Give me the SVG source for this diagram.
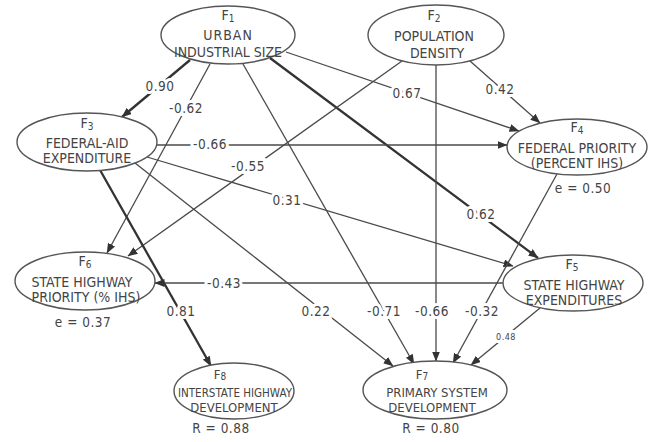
<svg xmlns="http://www.w3.org/2000/svg" width="652" height="442" viewBox="0 0 652 442">
<style>
  .node ellipse { fill: #fff; stroke: #555; stroke-width: 1.4; }
  .t { font-family: "Liberation Sans Narrow", "DejaVu Sans Condensed", "Liberation Sans", sans-serif; font-size: 14px; fill: #444; text-anchor: middle; }
  .f { font-family: "Liberation Sans Narrow", "DejaVu Sans Condensed", "Liberation Sans", sans-serif; font-size: 14px; fill: #444; text-anchor: middle; }
  .s13 { font-size: 13px; }
  .sub { font-size: 10px; }
  .edge { stroke: #4a4a4a; stroke-width: 1.3; fill: none; marker-end: url(#arr); }
  .bold { stroke-width: 2.3; stroke: #333; }
  .lbl { font-family: "Liberation Sans Narrow", "DejaVu Sans Condensed", "Liberation Sans", sans-serif; font-size: 13.5px; fill: #444; text-anchor: middle; stroke: #fff; stroke-width: 6; paint-order: stroke; letter-spacing: 0.5px; }
  .small { font-size: 9px; }
  .note { font-family: "Liberation Sans Narrow", "DejaVu Sans Condensed", "Liberation Sans", sans-serif; font-size: 13.5px; fill: #444; text-anchor: middle; letter-spacing: 0.5px; }
</style>
<defs>
  <marker id="arr" markerUnits="userSpaceOnUse" markerWidth="10" markerHeight="8" refX="9.5" refY="4" orient="auto">
    <path d="M0,0 L10,4 L0,8 Z" fill="#333"/>
  </marker>
</defs>
<rect width="652" height="442" fill="#fff"/>

<g id="connectors">
  <line class="edge bold" x1="190" y1="60" x2="122" y2="117"/>
  <line class="edge" x1="210" y1="64" x2="107" y2="253"/>
  <line class="edge" x1="243" y1="64" x2="414" y2="364"/>
  <line class="edge bold" x1="270" y1="58" x2="538" y2="258"/>
  <line class="edge" x1="286" y1="52" x2="519" y2="131"/>
  <line class="edge" x1="470" y1="61" x2="540" y2="123"/>
  <line class="edge" x1="402" y1="61" x2="128" y2="256"/>
  <line class="edge" x1="436" y1="65" x2="436" y2="361"/>
  <line class="edge" x1="157" y1="145" x2="507" y2="145"/>
  <line class="edge" x1="147" y1="157" x2="513" y2="266"/>
  <line class="edge" x1="135" y1="163" x2="393" y2="366"/>
  <line class="edge bold" x1="100" y1="170" x2="211" y2="366"/>
  <line class="edge" x1="557" y1="174" x2="453" y2="363"/>
  <line class="edge" x1="503" y1="283" x2="155" y2="283"/>
  <line class="edge" x1="540" y1="308" x2="471" y2="365"/>

  <text class="lbl" x="160" y="91">0.90</text>
  <text class="lbl" x="186" y="113">-0.62</text>
  <text class="lbl" x="384" y="316">-0.71</text>
  <text class="lbl" x="481" y="219">0.62</text>
  <text class="lbl" x="407" y="98">0.67</text>
  <text class="lbl" x="500" y="94">0.42</text>
  <text class="lbl" x="248" y="171">-0.55</text>
  <text class="lbl" x="432" y="316">-0.66</text>
  <text class="lbl" x="210" y="149">-0.66</text>
  <text class="lbl" x="287" y="205">0.31</text>
  <text class="lbl" x="316" y="316">0.22</text>
  <text class="lbl" x="181" y="316">0.81</text>
  <text class="lbl" x="482" y="316">-0.32</text>
  <text class="lbl" x="224" y="288">-0.43</text>
  <text class="lbl small" x="506" y="340">0.48</text>
</g>

<g id="F1" class="node">
  <ellipse cx="228" cy="35" rx="67" ry="29"/>
  <text class="f" x="228" y="20">F<tspan class="sub" dy="2">1</tspan></text>
  <text class="t" x="228" y="40" letter-spacing="1">URBAN</text>
  <text class="t" x="228" y="57">INDUSTRIAL SIZE</text>
</g>
<g id="F2" class="node">
  <ellipse cx="436" cy="35" rx="68" ry="30"/>
  <text class="f" x="434" y="20">F<tspan class="sub" dy="2">2</tspan></text>
  <text class="t" x="434" y="41">POPULATION</text>
  <text class="t" x="437" y="58">DENSITY</text>
</g>
<g id="F3" class="node">
  <ellipse cx="87" cy="142" rx="70" ry="29"/>
  <text class="f" x="87" y="128">F<tspan class="sub" dy="2">3</tspan></text>
  <text class="t" x="87" y="148">FEDERAL-AID</text>
  <text class="t" x="87" y="163">EXPENDITURE</text>
</g>
<g id="F4" class="node">
  <ellipse cx="577" cy="147" rx="70" ry="28"/>
  <text class="f" x="577" y="132">F<tspan class="sub" dy="2">4</tspan></text>
  <text class="t" x="577" y="153">FEDERAL PRIORITY</text>
  <text class="t" x="577" y="168">(PERCENT IHS)</text>
</g>
<g id="F5" class="node">
  <ellipse cx="573" cy="283" rx="70" ry="28"/>
  <text class="f" x="572" y="269">F<tspan class="sub" dy="2">5</tspan></text>
  <text class="t" x="574" y="290">STATE HIGHWAY</text>
  <text class="t" x="574" y="305">EXPENDITURES</text>
</g>
<g id="F6" class="node">
  <ellipse cx="85" cy="281" rx="70" ry="29"/>
  <text class="f" x="85" y="266">F<tspan class="sub" dy="2">6</tspan></text>
  <text class="t" x="82" y="287">STATE HIGHWAY</text>
  <text class="t" x="86" y="302">PRIORITY (% IHS)</text>
</g>
<g id="F7" class="node">
  <ellipse cx="435" cy="390" rx="72" ry="29"/>
  <text class="f s13" x="422" y="379">F<tspan class="sub" dy="1">7</tspan></text>
  <text class="t s13" x="437" y="397">PRIMARY SYSTEM</text>
  <text class="t s13" x="432" y="412">DEVELOPMENT</text>
</g>
<g id="F8" class="node">
  <ellipse cx="234" cy="391" rx="60" ry="28"/>
  <text class="f s13" x="220" y="379">F<tspan class="sub" dy="1">8</tspan></text>
  <text class="t s13" x="235" y="397" textLength="114" lengthAdjust="spacingAndGlyphs">INTERSTATE HIGHWAY</text>
  <text class="t s13" x="234" y="412">DEVELOPMENT</text>
</g>

<g id="notes">
  <text class="note" x="583" y="193">e = 0.50</text>
  <text class="note" x="83" y="327">e = 0.37</text>
  <text class="note" x="221" y="433">R = 0.88</text>
  <text class="note" x="431" y="433">R = 0.80</text>
</g>
</svg>
